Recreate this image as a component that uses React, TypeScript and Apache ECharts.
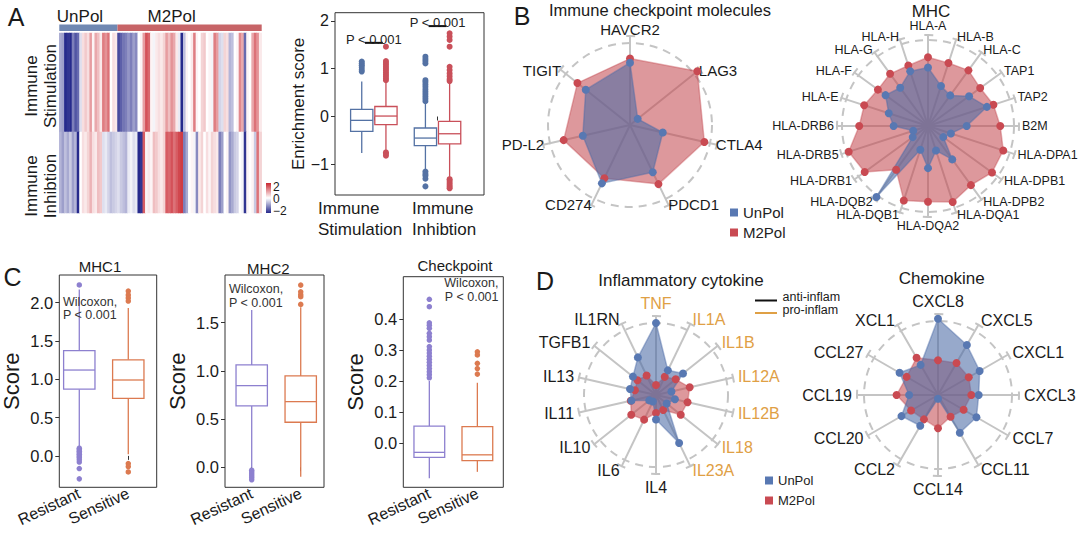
import React, { useEffect, useRef } from 'react';
import * as echarts from 'echarts';

const FONT = "'Liberation Sans', Arial, Helvetica, sans-serif";

// ================= DATA =================
// Panel A heatmap
const heatGroups = ['UnPol', 'M2Pol'];
const heatGroupCounts = [23, 57];
const heatRows = ['Immune\nStimulation', 'Immune\nInhibtion'];
const stimScores = [
  -0.8, -0.9, -2, -1.9, -2, -1.2, -1.6, -1.4, -0.3, 0.3,
  0.5, 0.3, 0.9, 0.1, 0.8, 0.6, 0.2, 1.2, 1.0, 1.3,
  0, 0.3, 0.2, -1.7, -1.5, -1.3, -1.2, -1.0, -1.2, -0.9,
  -1.1, 0, 0.1, 0.9, 1.6, 1.4, 0.1, -0.1, 0.2, 0.3,
  0.2, 0.4, 0.9, 0.6, 1.0, 0.8, 0.2, -0.2, -2, -0.6,
  0.1, 0, 0.2, 1.2, 0.1, 0, 0.4, 0.5, 0, 0.1,
  -0.1, 1.2, 0.9, -0.4, -0.3, 0.4, 0.3, -0.7, -0.6, 0,
  0.1, 1.1, 0.8, -1.4, 0.1, 0, 0.8, 1.3, 1.0, 0.2,
];
const inhibScores = [
  -0.7, -0.9, -0.6, -0.8, -0.5, -0.9, -0.7, -2, 0, 0.3,
  0.2, 0.4, 0.7, 0.3, 0.2, 0.6, 0.5, -0.3, -0.2, -0.4,
  -0.6, -0.5, -0.4, -0.3, -0.5, -0.6, -0.7, -0.2, -0.1, -0.3,
  -0.2, -2, -1.9, 1.5, 0.1, 0.2, 0.1, 0.6, 0.5, 0.3,
  0.2, 0.4, 1.5, 1.4, 1.6, 1.3, 1.5, 1.7, 1.8, -1.2,
  -0.8, 0, 0.1, -0.1, -1.1, 0.2, 0.4, 0, 0.3, 0.1,
  0.4, 0.3, 0.2, -1.2, -0.9, 0, 0.1, -1.0, -0.8, -0.5,
  -0.4, 0, -0.1, -1.9, 0.1, 0, 0.1, -0.5, 1.3, 0.4,
];
const colorbarLabels = ['2', '0', '\u22122'];

// Panel A boxplot  [low whisker, Q1, median, Q3, high whisker]
const aCategories = ['Immune\nStimulation', 'Immune\nInhibtion'];
const aTicks = [-1, 0, 1, 2];
const aUnPolBoxes = [[-0.76, -0.31, -0.08, 0.15, 0.73], [-1.11, -0.61, -0.45, -0.24, 0.28]];
const aM2PolBoxes = [[-0.72, -0.17, 0.01, 0.21, 0.73], [-1.28, -0.57, -0.36, -0.1, 0.7]];
const aUnPolOutliers = [
  [0.94, 0.98, 1.03, 1.07, 1.11, 1.15],
  [0.32, 0.37, 0.42, 0.47, 0.52, 0.57, 0.62, 0.67, 0.72, 0.76, 1.11, 1.16, 1.2, 1.25, -1.15, -1.2, -1.24, -1.3, -1.46],
];
const aM2PolOutliers = [
  [0.76, 0.8, 0.84, 0.88, 0.92, 0.96, 1.0, 1.04, 1.08, 1.12, 1.16, 1.46, -0.75, -0.78, -0.82],
  [0.74, 0.78, 0.84, 0.9, 0.97, 1.04, 1.46, 1.6, 1.67, 1.74, -1.31, -1.35, -1.39, -1.43, -1.47, -1.5],
];
const aPValues = ['P < 0.001', 'P < 0.001'];

// Panel B radars (values relative to dashed circle)
const checkpointGenes = ['HAVCR2', 'LAG3', 'CTLA4', 'PDCD1', 'CD274', 'PD-L2', 'TIGIT'];
const checkpointUnPol = [0.76, 0.12, 0.41, 0.64, 0.79, 0.59, 0.69];
const checkpointM2Pol = [0.81, 1.05, 0.93, 0.8, 0.72, 0.83, 0.82];
const mhcGenes = ['HLA-A', 'HLA-B', 'HLA-C', 'TAP1', 'TAP2', 'B2M', 'HLA-DPA1', 'HLA-DPB1', 'HLA-DPB2', 'HLA-DQA1',
  'HLA-DQA2', 'HLA-DQB1', 'HLA-DQB2', 'HLA-DRB1', 'HLA-DRB5', 'HLA-DRB6', 'HLA-E', 'HLA-F', 'HLA-G', 'HLA-H'];
const mhcUnPol = [0.68, 0.49, 0.44, 0.59, 0.72, 0.45, 0.28, 0.22, 0.48, 0.3, 0.49, 0.29, 1.02, 0.22, 0.18, 0.4, 0.48, 0.61, 0.55, 0.67];
const mhcM2Pol = [0.8, 0.77, 0.8, 0.75, 0.8, 0.84, 0.92, 0.92, 0.85, 0.93, 0.88, 0.91, 0.63, 0.91, 0.97, 0.8, 0.78, 0.72, 0.75, 0.74];

// Panel D radars
const cytokineGenes = ['TNF', 'IL1A', 'IL1B', 'IL12A', 'IL12B', 'IL18', 'IL23A', 'IL4', 'IL6', 'IL10', 'IL11', 'IL13', 'TGFB1', 'IL1RN'];
const cytokineClass = ['pro', 'pro', 'pro', 'pro', 'pro', 'pro', 'pro', 'anti', 'anti', 'anti', 'anti', 'anti', 'anti', 'anti'];
const cytokineUnPol = [1.0, 0.38, 0.48, 0.22, 0.27, 0.19, 0.74, 0.34, 0.1, 0.12, 0.35, 0.37, 0.41, 0.58];
const cytokineM2Pol = [0.14, 0.28, 0.35, 0.48, 0.45, 0.44, 0.23, 0.25, 0.38, 0.44, 0.36, 0.3, 0.33, 0.3];
const chemokineGenes = ['CXCL8', 'CXCL5', 'CXCL1', 'CXCL3', 'CCL7', 'CCL11', 'CCL14', 'CCL2', 'CCL20', 'CCL19', 'CCL27', 'XCL1'];
const chemokineUnPol = [1.03, 0.78, 0.65, 0.55, 0.6, 0.59, 0.05, 0.48, 0.57, 0.39, 0.6, 0.47];
const chemokineM2Pol = [0.47, 0.5, 0.48, 0.45, 0.4, 0.34, 0.45, 0.38, 0.42, 0.56, 0.49, 0.58];
const inflamClasses = ['anti-inflam', 'pro-inflam'];

// Panel C boxplots
const cGroups = ['Resistant', 'Sensitive'];
const mhc1Ticks = [0, 0.5, 1, 1.5, 2];
const mhc1Boxes = [[0.12, 0.87, 1.12, 1.374, 2.17], [0.02, 0.75, 0.99, 1.253, 1.93]];
const mhc1Outliers = [
  [2.23, 0.1, 0.08, 0.06, 0.04, 0.02, 0.0, -0.02, -0.05, -0.08, -0.165, -0.3],
  [2.15, 2.1, 2.06, 2.02, -0.1, -0.14, -0.21],
];
const mhc2Ticks = [0, 0.5, 1, 1.5];
const mhc2Boxes = [[0.0, 0.636, 0.847, 1.062, 1.633], [-0.098, 0.467, 0.681, 0.948, 1.66]];
const mhc2Outliers = [
  [-0.03, -0.05, -0.07, -0.09, -0.11, -0.13],
  [1.69, 1.77, 1.79, 1.82, 1.89],
];
const ckTicks = [0, 0.1, 0.2, 0.3, 0.4];
const ckBoxes = [[-0.115, -0.047, -0.031, 0.054, 0.2], [-0.094, -0.058, -0.039, 0.052, 0.194]];
const ckOutliers = [
  [0.21, 0.22, 0.23, 0.24, 0.25, 0.26, 0.27, 0.28, 0.29, 0.3, 0.311, 0.332, 0.343, 0.354, 0.37, 0.38, 0.388, 0.44, 0.464],
  [0.222, 0.24, 0.257, 0.284, 0.294],
];
const cTitles = ['MHC1', 'MHC2', 'Checkpoint'];
const cTestText = 'Wilcoxon,\nP < 0.001';

// ================= STYLE / LAYOUT =================
const HEAT_COLORS = ['#262a8c', '#ffffff', '#c9262f'];
const ANNOT_COLORS = ['#7088b2', '#c76467'];
const A_COLORS = ['#5472a4', '#c9505a'];
const C_COLORS = ['#8d80cf', '#dc7a50'];
const PT_BLUE = '#5878b2';
const PT_RED = '#c94a52';
const FILL_BLUE = '#4b6aa6';
const FILL_RED = '#c2474e';
const GRID_GRAY = '#c4c4c4';
const ORANGE_TXT = '#dfa045';
const TXT = '#1a1a1a';
const A_DODGE = 0.19;
const A_SIG_Y = [1.54, 1.89];
const A_XLABEL_LEFT = [318, 412];

const cw = <T,>(a: T[]): T[] => [a[0], ...a.slice(1).reverse()];

function capLine(R: number, n: number, L: number) {
  const P = (2 * Math.PI * R) / n;
  const s0 = R * 1.5 * Math.PI;
  let d = (L / 2 - s0) % P;
  if (d < 0) d += P;
  return { type: [L, P - L], dashOffset: d };
}

const renderBox = (color: string, boxW: number, lw: number) => (params: any, api: any) => {
  const x = api.value(0);
  const lo = api.value(1), q1 = api.value(2), med = api.value(3), q3 = api.value(4), hi = api.value(5);
  const c = (v: number) => api.coord([x, v]);
  const pLo = c(lo), pQ1 = c(q1), pMed = c(med), pQ3 = c(q3), pHi = c(hi);
  const xl = api.coord([x - boxW / 2, med])[0];
  const xr = api.coord([x + boxW / 2, med])[0];
  const st = { stroke: color, lineWidth: lw, fill: 'none' };
  return {
    type: 'group',
    children: [
      { type: 'line', shape: { x1: pLo[0], y1: pLo[1], x2: pQ1[0], y2: pQ1[1] }, style: st },
      { type: 'line', shape: { x1: pQ3[0], y1: pQ3[1], x2: pHi[0], y2: pHi[1] }, style: st },
      { type: 'rect', shape: { x: xl, y: pQ3[1], width: xr - xl, height: pQ1[1] - pQ3[1] }, style: { stroke: color, lineWidth: lw, fill: '#fff' } },
      { type: 'line', shape: { x1: xl, y1: pMed[1], x2: xr, y2: pMed[1] }, style: st },
    ],
  };
};

function boxSeries(axisIdx: number, boxes: number[][], xs: number[], color: string, boxW: number) {
  return {
    type: 'custom', xAxisIndex: axisIdx, yAxisIndex: axisIdx, silent: true, z: 3,
    data: boxes.map((b, i) => [xs[i], ...b]),
    renderItem: renderBox(color, boxW, 1.3),
  };
}

function outlierSeries(axisIdx: number, outliers: number[][], xs: number[], color: string, size: number) {
  const data: number[][] = [];
  outliers.forEach((arr, i) => arr.forEach((v) => data.push([xs[i], v])));
  return {
    type: 'scatter', xAxisIndex: axisIdx, yAxisIndex: axisIdx, silent: true, z: 4,
    symbol: 'circle', symbolSize: size, data, itemStyle: { color, borderWidth: 0, opacity: 1 },
  };
}

function boxX(gridIndex: number, min: number, max: number, labels: string[], rotate: number, fontSize: number, margin: number, showLabel = true) {
  const vals = labels.map((_, i) => i + 1);
  return {
    gridIndex, type: 'value', min, max,
    axisLine: { show: false }, splitLine: { show: false },
    axisTick: { show: true, length: 4, customValues: vals, lineStyle: { color: '#333', width: 1 } },
    axisLabel: {
      show: showLabel, customValues: vals, rotate, fontSize, lineHeight: fontSize + 4, margin, color: TXT, fontFamily: FONT,
      showMinLabel: true, showMaxLabel: true,
      formatter: (v: number) => labels[Math.round(v) - 1] ?? '',
    },
  };
}

function boxY(gridIndex: number, min: number, max: number, ticks: number[], fmt: (v: number) => string,
  name: string, nameSize: number, nameGap: number, fontSize: number) {
  return {
    gridIndex, type: 'value', min, max,
    name, nameLocation: 'middle', nameGap, nameRotate: 90,
    nameTextStyle: { fontSize: nameSize, color: TXT, fontFamily: FONT },
    axisLine: { show: false }, splitLine: { show: false },
    axisTick: { show: true, length: 4, customValues: ticks, lineStyle: { color: '#333', width: 1 } },
    axisLabel: { show: true, customValues: ticks, fontSize, margin: 6, color: TXT, fontFamily: FONT, formatter: fmt, showMinLabel: true, showMaxLabel: true },
  };
}

function txt(x: number, y: number, text: string, fontSize: number, extra: any = {}) {
  const align = extra.align ?? 'center';
  const vAlign = extra.verticalAlign ?? 'middle';
  return {
    type: 'text', x, y, rotation: extra.rotation ?? 0, silent: true, z: 10,
    style: {
      text, fontSize, fontFamily: FONT, fill: extra.fill ?? TXT,
      align, verticalAlign: vAlign, textAlign: align, textVerticalAlign: vAlign,
      lineHeight: extra.lineHeight ?? fontSize + 2,
    },
  };
}

type RadarSpec = {
  center: [number, number]; rc: number; rout: number; names: string[]; nameColors?: string[];
  fontSize: number; nameGap: number; un: number[]; m2: number[];
};

function addRadar(spec: RadarSpec, radars: any[], series: any[]) {
  const n = spec.names.length;
  const maxV = spec.rout / spec.rc;
  const names = cw(spec.names);
  const colors = spec.nameColors ? cw(spec.nameColors) : names.map(() => TXT);
  const cap = capLine(spec.rout, n, 9);
  const outerIdx = radars.length;
  radars.push({
    center: spec.center, radius: spec.rout, startAngle: 90, shape: 'circle', splitNumber: 1, nameGap: spec.nameGap,
    indicator: names.map((name, i) => ({ name, min: 0, max: maxV, color: colors[i] })),
    axisName: { fontSize: spec.fontSize, lineHeight: spec.fontSize, fontFamily: FONT, color: TXT },
    axisLine: { show: true, lineStyle: { color: GRID_GRAY, width: 2 } },
    axisTick: { show: false }, axisLabel: { show: false },
    splitLine: { show: true, lineStyle: { color: GRID_GRAY, width: 2, type: cap.type, dashOffset: cap.dashOffset } },
    splitArea: { show: false },
  });
  radars.push({
    center: spec.center, radius: spec.rc, startAngle: 90, shape: 'circle', splitNumber: 1,
    indicator: names.map(() => ({ name: '', min: 0, max: 1 })),
    axisName: { show: false }, axisLine: { show: false }, axisTick: { show: false }, axisLabel: { show: false },
    splitLine: { show: true, lineStyle: { color: GRID_GRAY, width: 2, type: [8, 6] } },
    splitArea: { show: false },
  });
  series.push({
    type: 'radar', radarIndex: outerIdx, symbol: 'circle', symbolSize: 8, silent: true, z: 3,
    emphasis: { disabled: true },
    data: [
      { name: 'M2Pol', value: cw(spec.m2), itemStyle: { color: PT_RED }, areaStyle: { color: FILL_RED, opacity: 0.56 }, lineStyle: { color: FILL_RED, width: 1.5, opacity: 0.4 } },
      { name: 'UnPol', value: cw(spec.un), itemStyle: { color: PT_BLUE }, areaStyle: { color: FILL_BLUE, opacity: 0.58 }, lineStyle: { color: FILL_BLUE, width: 1.5, opacity: 0.45 } },
    ],
  });
}

function buildOption() {
  const series: any[] = [];
  const radars: any[] = [];
  const nCols = stimScores.length;
  const cols = stimScores.map((_, i) => String(i));
  const heatMin = -2, heatMax = 2;

  // --- heatmap rows ---
  [stimScores, inhibScores].forEach((arr, r) => {
    series.push({
      type: 'heatmap', xAxisIndex: 1 + r, yAxisIndex: 1 + r, silent: true,
      data: arr.map((v, i) => [i, 0, v]), itemStyle: { borderWidth: 0 }, emphasis: { disabled: true },
    });
  });
  // --- group annotation bar ---
  heatGroups.forEach((g, i) => {
    series.push({
      type: 'bar', name: 'annot-' + g, xAxisIndex: 0, yAxisIndex: 0, stack: 'annot', barWidth: '100%', silent: true,
      data: [heatGroupCounts[i]], itemStyle: { color: ANNOT_COLORS[i] },
    });
  });

  // --- A boxplot ---
  const aXsUn = aCategories.map((_, i) => i + 1 - A_DODGE);
  const aXsM2 = aCategories.map((_, i) => i + 1 + A_DODGE);
  series.push(boxSeries(3, aUnPolBoxes, aXsUn, A_COLORS[0], 0.35));
  series.push(boxSeries(3, aM2PolBoxes, aXsM2, A_COLORS[1], 0.35));
  series.push(outlierSeries(3, aUnPolOutliers, aXsUn, A_COLORS[0], 6));
  series.push(outlierSeries(3, aM2PolOutliers, aXsM2, A_COLORS[1], 6));
  series.push({
    type: 'custom', xAxisIndex: 3, yAxisIndex: 3, silent: true, z: 5,
    data: aCategories.map((_, i) => [i + 1, A_SIG_Y[i]]),
    renderItem: (params: any, api: any) => {
      const g = api.value(0), y = api.value(1);
      const p1 = api.coord([g - 0.14, y]), p2 = api.coord([g + 0.14, y]), pc = api.coord([g, y]);
      return {
        type: 'group', children: [
          { type: 'line', shape: { x1: p1[0], y1: p1[1], x2: p2[0], y2: p2[1] }, style: { stroke: '#111', lineWidth: 2 } },
          {
            type: 'text', x: pc[0], y: pc[1] + 3,
            style: { text: aPValues[params.dataIndex], fontSize: 13, fontFamily: FONT, fill: '#222', align: 'center', verticalAlign: 'bottom', textAlign: 'center', textVerticalAlign: 'bottom' },
          },
        ],
      };
    },
  });

  // --- C boxplots ---
  const cData = [
    { boxes: mhc1Boxes, out: mhc1Outliers },
    { boxes: mhc2Boxes, out: mhc2Outliers },
    { boxes: ckBoxes, out: ckOutliers },
  ];
  cData.forEach((p, k) => {
    const ax = 4 + k;
    cGroups.forEach((_, gi) => {
      series.push(boxSeries(ax, [p.boxes[gi]], [gi + 1], C_COLORS[gi], 0.64));
      series.push(outlierSeries(ax, [p.out[gi]], [gi + 1], C_COLORS[gi], 5.5));
    });
  });

  // --- radars ---
  addRadar({ center: [630, 125], rc: 82, rout: 89, names: checkpointGenes, fontSize: 15, nameGap: -1, un: checkpointUnPol, m2: checkpointM2Pol }, radars, series);
  addRadar({ center: [928, 126], rc: 86, rout: 91, names: mhcGenes, fontSize: 12.5, nameGap: 3, un: mhcUnPol, m2: mhcM2Pol }, radars, series);
  addRadar({
    center: [656, 395], rc: 72, rout: 79, names: cytokineGenes,
    nameColors: cytokineClass.map((c) => (c === 'pro' ? ORANGE_TXT : TXT)),
    fontSize: 16, nameGap: 5, un: cytokineUnPol, m2: cytokineM2Pol,
  }, radars, series);
  addRadar({ center: [938, 395], rc: 74, rout: 81, names: chemokineGenes, fontSize: 16, nameGap: 5, un: chemokineUnPol, m2: chemokineM2Pol }, radars, series);

  const frame = { show: true, borderColor: '#333', borderWidth: 1, backgroundColor: 'transparent', containLabel: false, outerBoundsMode: 'none' };
  const plain = { containLabel: false, outerBoundsMode: 'none' };
  const grids = [
    { ...plain, left: 59.3, top: 24.5, width: 202.4, height: 6.5 },
    { ...plain, left: 59.3, top: 33, width: 202.4, height: 99 },
    { ...plain, left: 59.3, top: 132, width: 202.4, height: 81 },
    { ...frame, left: 335, top: 12.7, width: 149, height: 182.3 },
    { ...frame, left: 59.3, top: 275, width: 97.4, height: 212.3 },
    { ...frame, left: 225, top: 275, width: 99, height: 212.3 },
    { ...frame, left: 403.3, top: 276.7, width: 100, height: 210.6 },
  ];

  const fmtA = (v: number) => (v < 0 ? '\u2212' + Math.abs(v) : String(v));
  const fmtC = (v: number) => v.toFixed(1);
  const xAxes = [
    { gridIndex: 0, type: 'value', min: 0, max: nCols, show: false },
    { gridIndex: 1, type: 'category', data: cols, show: false },
    { gridIndex: 2, type: 'category', data: cols, show: false },
    boxX(3, 0.39, 2.73, aCategories, 0, 17, 4, false),
    boxX(4, 0.592, 2.58, cGroups, 25, 16, 5),
    boxX(5, 0.455, 2.475, cGroups, 25, 16, 5),
    boxX(6, 0.458, 2.54, cGroups, 25, 16, 5),
  ];
  const yAxes = [
    { gridIndex: 0, type: 'category', data: [''], show: false },
    { gridIndex: 1, type: 'category', data: [heatRows[0]], show: false },
    { gridIndex: 2, type: 'category', data: [heatRows[1]], show: false },
    boxY(3, -1.64, 2.17, aTicks, fmtA, 'Enrichment score', 17, 20, 16),
    boxY(4, -0.41, 2.36, mhc1Ticks, fmtC, 'Score', 22, 37, 16.5),
    boxY(5, -0.208, 1.995, mhc2Ticks, fmtC, 'Score', 22, 37, 16.5),
    boxY(6, -0.144, 0.537, ckTicks, fmtC, 'Score', 22, 37, 16.5),
  ];

  const cbTop = 183, cbH = 30;
  const graphics: any[] = [
    {
      type: 'rect', silent: true, shape: { x: 266, y: cbTop, width: 5, height: cbH },
      style: {
        fill: new echarts.graphic.LinearGradient(0, 0, 0, 1, [
          { offset: 0, color: HEAT_COLORS[2] }, { offset: 0.5, color: HEAT_COLORS[1] }, { offset: 1, color: HEAT_COLORS[0] },
        ]),
      },
    },
    ...colorbarLabels.map((t, i) => txt(273, cbTop + 3.5 + i * 12, t, 12, { align: 'left' })),
    txt(16, 16.7, 'A', 25), txt(522, 16, 'B', 25), txt(12.5, 277, 'C', 25), txt(545, 280.5, 'D', 25),
    txt(80, 16.7, heatGroups[0], 17), txt(171.7, 16.7, heatGroups[1], 17),
    txt(41, 86, heatRows[0], 17, { rotation: Math.PI / 2, lineHeight: 19 }),
    txt(41, 186, heatRows[1], 17, { rotation: Math.PI / 2, lineHeight: 19 }),
    ...aCategories.map((t, i) => txt(A_XLABEL_LEFT[i], 197.5, t, 17, { align: 'left', verticalAlign: 'top', lineHeight: 21.5 })),
    txt(660, 10, 'Immune checkpoint molecules', 16.5, { lineHeight: 15 }),
    txt(931, 11, 'MHC', 17, { lineHeight: 15 }),
    txt(681, 280, 'Inflammatory cytokine', 17),
    txt(941.7, 278.3, 'Chemokine', 17),
    txt(100, 266.5, cTitles[0], 15), txt(268.3, 268, cTitles[1], 15), txt(455, 265, cTitles[2], 15),
    txt(63, 308, cTestText, 12.5, { align: 'left', lineHeight: 13, fill: '#333' }),
    txt(229, 295.5, cTestText, 12.5, { align: 'left', lineHeight: 14, fill: '#333' }),
    txt(498.5, 290, cTestText, 12.5, { align: 'right', lineHeight: 13.5, fill: '#333' }),
    { type: 'line', silent: true, shape: { x1: 755, y1: 300.5, x2: 777, y2: 300.5 }, style: { stroke: '#111', lineWidth: 2 } },
    { type: 'line', silent: true, shape: { x1: 755, y1: 313, x2: 777, y2: 313 }, style: { stroke: ORANGE_TXT, lineWidth: 2 } },
    txt(782.5, 297, inflamClasses[0], 12.5, { align: 'left' }),
    txt(782.5, 310, inflamClasses[1], 12.5, { align: 'left' }),
  ];

  const legendBase = {
    orient: 'vertical', itemWidth: 8, itemHeight: 8, itemGap: 5, padding: 0, selectedMode: false,
    data: [{ name: 'UnPol', icon: 'rect' }, { name: 'M2Pol', icon: 'rect' }],
  };

  return {
    animation: false,
    backgroundColor: '#ffffff',
    textStyle: { fontFamily: FONT },
    grid: grids,
    xAxis: xAxes,
    yAxis: yAxes,
    radar: radars,
    visualMap: {
      show: false, type: 'continuous', min: heatMin, max: heatMax, seriesIndex: [0, 1], dimension: 2,
      inRange: { color: HEAT_COLORS },
    },
    legend: [
      { ...legendBase, left: 730, top: 205, textStyle: { fontSize: 15, fontFamily: FONT, color: '#222' } },
      { ...legendBase, left: 765, top: 474, itemGap: 7, textStyle: { fontSize: 13, fontFamily: FONT, color: '#222' } },
    ],
    graphic: graphics,
    series,
  };
}

export default function App() {
  const ref = useRef<HTMLDivElement>(null);
  useEffect(() => {
    if (!ref.current) return;
    const chart = echarts.init(ref.current, null, { renderer: 'svg' });
    chart.setOption(buildOption() as any);
    return () => chart.dispose();
  }, []);
  return (
    <div
      ref={ref}
      style={{ position: 'absolute', left: 0, top: 0, width: 1080, height: 537, background: '#fff' }}
    />
  );
}
